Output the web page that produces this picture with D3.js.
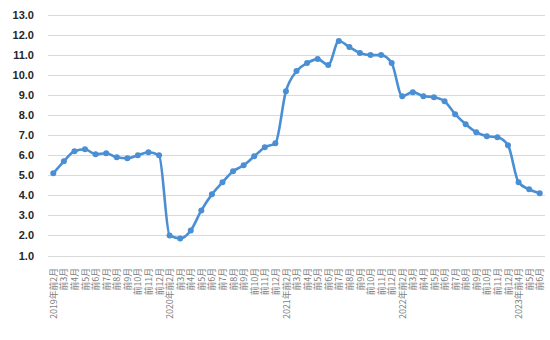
<!DOCTYPE html>
<html><head><meta charset="utf-8">
<script src="https://cdn.jsdelivr.net/npm/d3@7"></script>
<style>body{margin:0;background:#fff}</style>
</head><body><svg id="c" width="550" height="340"></svg>
<script>
const years = ["2019年","2020年","2021年","2022年","2023年"];
const months2019 = ["前2月","前3月","前4月","前5月","前6月","前7月","前8月","前9月","前10月","前11月","前12月"];
const months2020 = months2019;
const months2021 = months2019;
const months2022 = months2019;
const months2023 = ["前4月","前5月","前6月"];
const values2019 = [5.1,5.7,6.2,6.3,6.05,6.1,5.9,5.85,6.0,6.15,6.0];
const values2020 = [2.0,1.85,2.25,3.25,4.05,4.65,5.2,5.5,5.95,6.4,6.6];
const values2021 = [9.2,10.2,10.6,10.8,10.5,11.7,11.4,11.1,11.0,11.0,10.6];
const values2022 = [8.95,9.15,8.95,8.9,8.7,8.05,7.55,7.15,6.95,6.9,6.5];
const values2023 = [4.65,4.3,4.1];
const yTicks = [1,2,3,4,5,6,7,8,9,10,11,12,13];

const monthGroups = [months2019,months2020,months2021,months2022,months2023];
const valueGroups = [values2019,values2020,values2021,values2022,values2023];
const data = [];
monthGroups.forEach((ms,gi)=>ms.forEach((m,i)=>{
  data.push({label:(i===0?years[gi]:"")+m, key:gi+"-"+i, v:valueGroups[gi][i]});
}));

const svg = d3.select("#c");
const x = d3.scalePoint().domain(data.map(d=>d.key)).range([48,545]).padding(0.5);
const y = d3.scaleLinear().domain([1,13]).range([255.5,15]);

svg.append("g").selectAll("line").data(yTicks).join("line")
  .attr("x1",48).attr("x2",545)
  .attr("y1",d=>Math.round(y(d))+0.5).attr("y2",d=>Math.round(y(d))+0.5)
  .attr("stroke","#d9d9d9").attr("stroke-width",1);

const yAxis = svg.append("g").attr("transform","translate(34,0)")
  .call(d3.axisLeft(y).tickValues(yTicks).tickFormat(d3.format(".1f")).tickSize(0).tickPadding(0));
yAxis.select(".domain").remove();
yAxis.selectAll("text").attr("font-family","'Liberation Sans',Arial,sans-serif")
  .attr("font-size",11).attr("font-weight","bold").attr("fill","#262626");

const xAxis = svg.append("g").attr("transform","translate(0,265)")
  .call(d3.axisBottom(x).tickSize(0).tickFormat((k,i)=>data[i].label));
xAxis.select(".domain").remove();
xAxis.selectAll("text")
  .attr("font-family","'Noto Sans CJK SC',sans-serif").attr("font-size",8.8)
  .attr("fill","#7f7f7f")
  .attr("text-anchor","end").attr("dy","0.35em")
  .attr("transform","rotate(-90)").attr("x",-3).attr("y",0);

const line = d3.line().x(d=>x(d.key)).y(d=>y(d.v)).curve(d3.curveMonotoneX);
svg.append("path").datum(data).attr("d",line)
  .attr("fill","none").attr("stroke","#4a8fd4").attr("stroke-width",2.6)
  .attr("stroke-linejoin","round");
svg.append("g").selectAll("circle").data(data).join("circle")
  .attr("cx",d=>x(d.key)).attr("cy",d=>y(d.v)).attr("r",3)
  .attr("fill","#4a8fd4");
</script></body></html>
